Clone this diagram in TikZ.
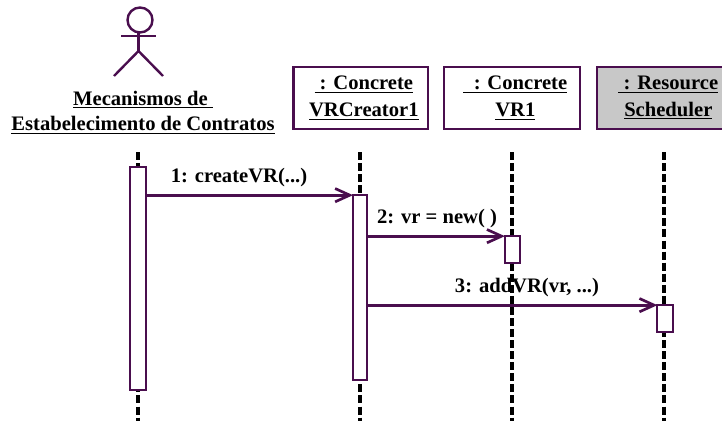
\documentclass[tikz,border=0pt]{standalone}
\usepackage{fontspec}
\setmainfont{Liberation Serif}
\usepackage{tikz}
\usetikzlibrary{calc,arrows.meta}
\definecolor{seq-line}{HTML}{4A0E4E}
\definecolor{seq-gray}{HTML}{C8C8C8}
\newcommand{\boxline}[1]{\hspace*{5pt}\raisebox{-1.5pt}{\underline{#1}}}

\begin{document}
\begin{tikzpicture}[x=0.75pt,y=-0.75pt,
    objbox/.style={draw=seq-line, line width=2pt, fill=white, minimum height=46.5pt, inner sep=0pt, align=center, font=\bfseries\fontsize{15.45}{20}\selectfont},
    activation/.style={draw=seq-line, line width=1.7pt, fill=white, minimum width=11.5pt, inner sep=0pt, outer sep=0pt},
    lifeline/.style={black, line width=2.3pt, dash pattern=on 6pt off 2.3pt},
    message/.style={seq-line, line width=2pt, -{Straight Barb[length=11pt,width=10pt,line width=2pt]}},
    msglabel/.style={font=\bfseries\fontsize{15.45}{19}\selectfont, inner sep=0pt},
    actorpart/.style={seq-line, line width=1.8pt}]

    \useasboundingbox (0,0) rectangle (722,421);

    % Actor
    \draw[actorpart] (140,20) circle (12.5);
    \draw[actorpart] (121,36) -- (156,36);
    \draw[actorpart] (138.5,32.5) -- (138.5,51);
    \draw[actorpart] (114,76) -- (138.5,51) -- (163,76);
    \node[msglabel, align=center] (actor) at (143,112.5)
        {\underline{Mecanismos de\ }\\\underline{Estabelecimento de Contratos}};

    % Objects
    \node[objbox, minimum width=101pt] (creator) at (360.5,98) {\boxline{\ : Concrete}\\\boxline{VRCreator1}};
    \node[objbox, minimum width=102pt] (vrone) at (512,98) {\boxline{\ \ : Concrete}\\\boxline{VR1}};
    \node[objbox, fill=seq-gray, minimum width=102pt] (scheduler) at (665,98) {\boxline{\ : Resource}\\\boxline{Scheduler}};

    % Lifelines
    \coordinate (actortop) at (138,152);
    \coordinate (actorend) at (138,421);
    \coordinate (creatortop) at (360,152);
    \coordinate (creatorend) at (360,421);
    \coordinate (vronetop) at (512,152);
    \coordinate (vroneend) at (512,421);
    \coordinate (schedulertop) at (664,152);
    \coordinate (schedulerend) at (664,421);
    \draw[lifeline] (actortop) -- (actorend);
    \draw[lifeline] (creatortop) -- (creatorend);
    \draw[lifeline] (vronetop) -- (vroneend);
    \draw[lifeline] (schedulertop) -- (schedulerend);

    % Activations
    \node[activation, minimum height=167pt] (actact) at (138,278.5) {};
    \node[activation, minimum height=138.5pt, minimum width=10.5pt] (creatoract) at (360,287.5) {};
    \node[activation, minimum height=20pt] (vroneact) at (512.5,249.5) {};
    \node[activation, minimum height=20pt] (scheduleract) at (665,318.5) {};

    % Messages
    \draw[message] (actact.east |- creatoract.north) -- (creatoract.north west);
    \draw[message] (creatoract.east |- vroneact.north) -- (vroneact.north west);
    \draw[message] (creatoract.east |- scheduleract.north) -- (scheduleract.north west);

    % Message labels
    \node[msglabel] (msgone) at (239,178) {1: createVR(...)};
    \node[msglabel] (msgtwo) at (437,219) {2: vr = new( )};
    \node[msglabel] (msgthree) at (527,288) {3: addVR(vr, ...)};

\end{tikzpicture}
\end{document}
